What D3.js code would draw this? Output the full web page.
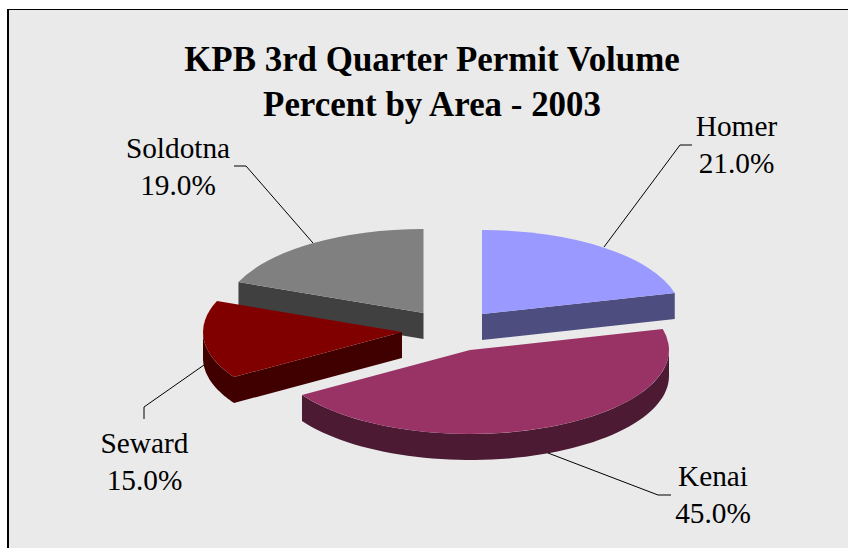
<!DOCTYPE html>
<html><head><meta charset="utf-8">
<script src="https://cdn.jsdelivr.net/npm/d3@7"></script>
<style>html,body{margin:0;padding:0;background:#fff;overflow:hidden}svg{display:block}
text{font-family:"Liberation Serif",serif;fill:#000}</style></head><body>
<script>
const categories=["Homer","Kenai","Seward","Soldotna"];
const values=[21.0,45.0,15.0,19.0];
const topColors=["#9999ff","#993366","#800000","#808080"];
const sideColors=["#4d4d80","#4d1a33","#400000","#404040"];
const centers=[[482,314],[470,350],[402,332],[423.5,313]];
const labelPos=[[736.5,136],[713,486],[144.5,453],[178,158]];
const leaders=[[[604,247],[680,145],[692,145]],[[548,453],[658,495],[671,495]],[[204,365],[144,407],[144,419]],[[313,243],[246,166],[234,166]]];
const titleLines=["KPB 3rd Quarter Permit Volume","Percent by Area - 2003"];

const W=848,H=548,rx=199,ry=84,depth=26;
const svg=d3.select("body").append("svg").attr("width",W).attr("height",H);
svg.append("rect").attr("x",8).attr("y",9.5).attr("width",W).attr("height",H).attr("fill","#eaeaea").attr("stroke","#000").attr("stroke-width",1);
svg.append("line").attr("x1",8).attr("x2",8).attr("y1",9).attr("y2",H).attr("stroke","#000").attr("stroke-width",2);

const arcs=d3.pie().sort(null).value(d=>d)(values);
const topArc=d3.arc().innerRadius(0).outerRadius(rx);
const pt=(c,a,dy=0)=>[c[0]+rx*Math.sin(a),c[1]-ry*Math.cos(a)+dy];

function wall(c,a0,a1){
  const s=Math.max(a0,Math.PI/2),e=Math.min(a1,3*Math.PI/2);
  if(e<=s) return null;
  const n=d3.range(0,61).map(i=>s+(e-s)*i/60);
  return d3.line()(n.map(a=>pt(c,a)).concat(n.slice().reverse().map(a=>pt(c,a,depth))))+"Z";
}
function face(c,a){
  const e=pt(c,a);
  return d3.line()([c,e,[e[0],e[1]+depth],[c[0],c[1]+depth]])+"Z";
}
// back-to-front drawing order
[3,0,2,1].forEach(i=>{
  const d=arcs[i],c=centers[i],g=svg.append("g");
  const sc=sideColors[i];
  // cut faces that look toward the viewer
  if(i===0) g.append("path").attr("d",face(c,d.endAngle)).attr("fill",sc);
  if(i===2) g.append("path").attr("d",face(c,d.startAngle)).attr("fill",sc);
  if(i===3) g.append("path").attr("d",face(c,d.startAngle)).attr("fill",sc);
  const w=wall(c,d.startAngle,d.endAngle);
  if(w) g.append("path").attr("d",w).attr("fill",sc);
  g.append("path").attr("transform",`translate(${c[0]},${c[1]}) scale(1,${ry/rx})`)
    .attr("d",topArc(d)).attr("fill",topColors[i]);
});

leaders.forEach(l=>svg.append("path").attr("d",d3.line()(l)).attr("fill","none").attr("stroke","#000").attr("stroke-width",1));

categories.forEach((c,i)=>{
  const t=svg.append("text").attr("text-anchor","middle").attr("font-size",29.3).attr("x",labelPos[i][0]);
  t.append("tspan").attr("x",labelPos[i][0]).attr("y",labelPos[i][1]).text(c);
  t.append("tspan").attr("x",labelPos[i][0]).attr("y",labelPos[i][1]+36.7).text(values[i].toFixed(1)+"%");
});
titleLines.forEach((s,i)=>svg.append("text").attr("text-anchor","middle").attr("font-weight","bold").attr("font-size",34.9)
  .attr("x",432).attr("y",71+i*44.5).text(s));
</script></body></html>
